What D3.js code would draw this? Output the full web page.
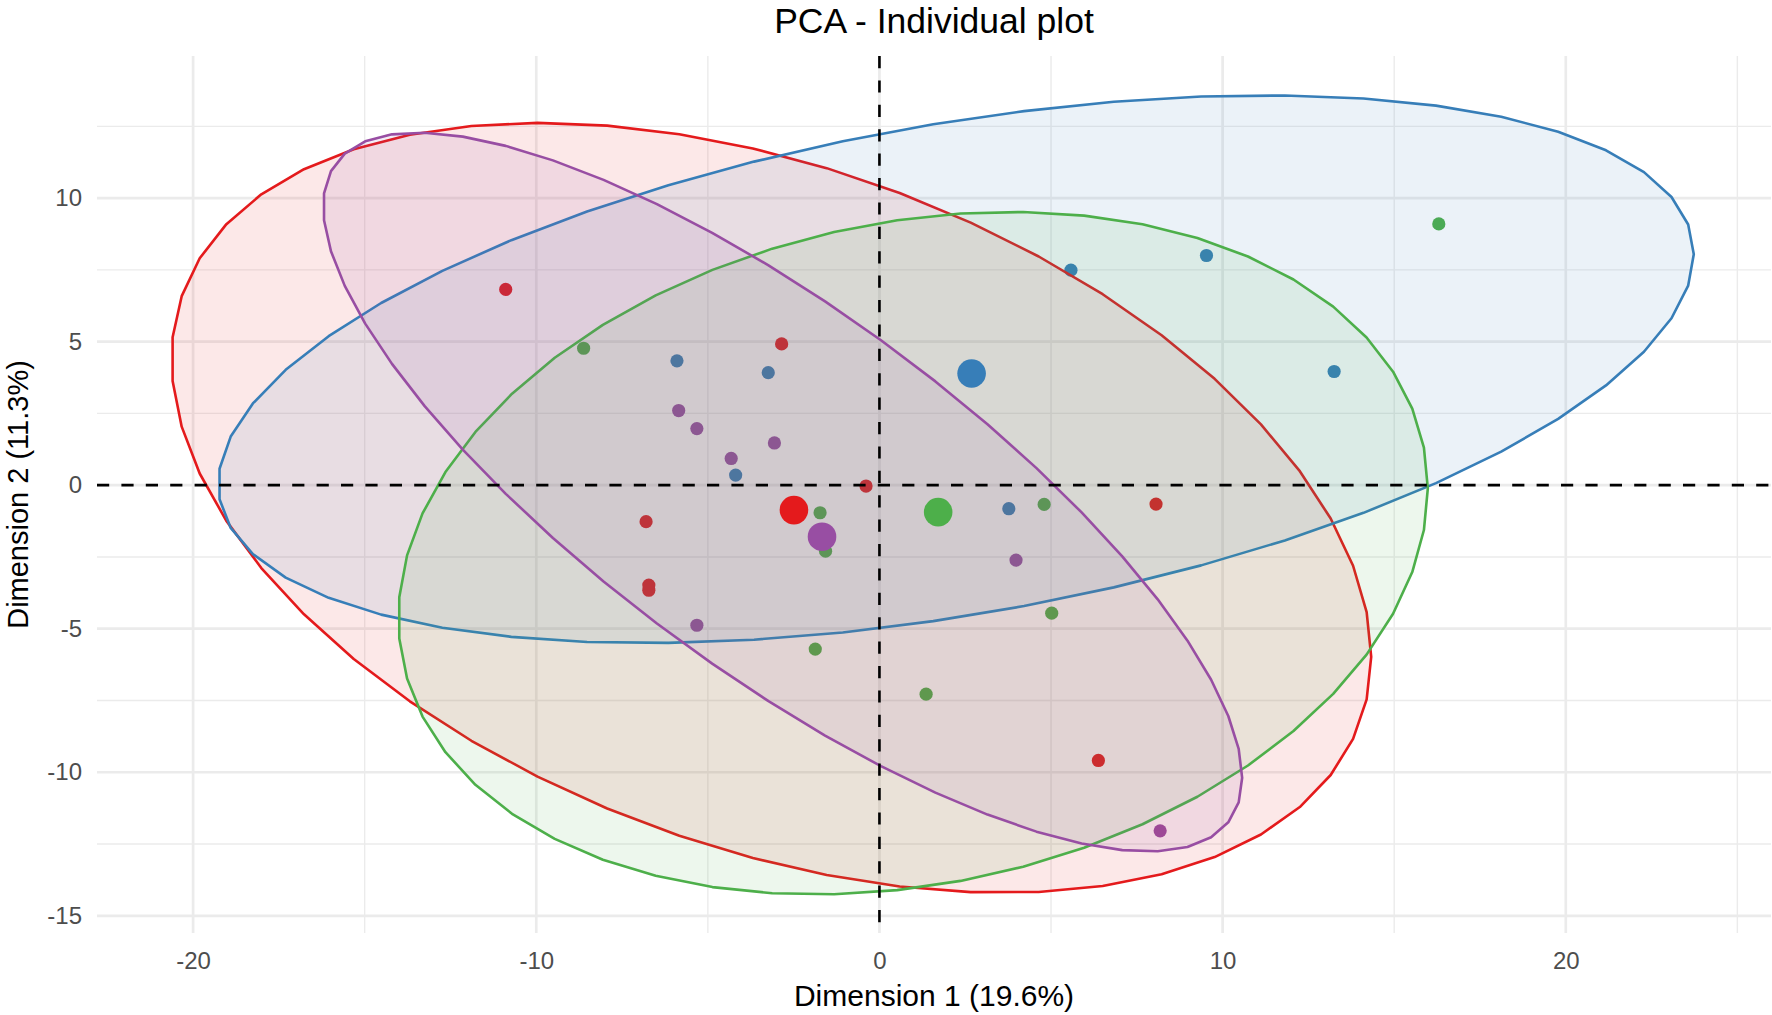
<!DOCTYPE html>
<html>
<head>
<meta charset="utf-8">
<script src="https://cdn.jsdelivr.net/npm/d3@7"></script>
<style>
  body { margin: 0; background: #fff; }
  svg { display: block; }
  text { font-family: "Liberation Sans", Arial, Helvetica, sans-serif; }
</style>
</head>
<body>
<div id="chart"></div>
<script>
const width = 1772;
const height = 1015;

// Individuals, one pair of arrays per group (Dim.1, Dim.2)
const group1X = [-10.89, -2.85, -0.39, -6.80, -6.72, -6.72, 8.06, 6.38];
const group1Y = [6.82, 4.92, -0.03, -1.27, -3.48, -3.66, -0.66, -9.59];
const group2X = [5.58, 9.53, 13.25, -5.90, -3.24, -4.19, 3.77];
const group2Y = [7.49, 8.00, 3.96, 4.33, 3.92, 0.35, -0.82];
const group3X = [16.30, -8.62, -1.73, -1.57, 4.80, 5.02, -1.87, 1.36];
const group3Y = [9.10, 4.77, -0.96, -2.30, -0.67, -4.46, -5.71, -7.28];
const group4X = [-5.85, -5.32, -4.32, -3.06, -5.32, 3.98, 8.18];
const group4Y = [2.60, 1.97, 0.93, 1.47, -4.88, -2.61, -12.04];

const groupsX = [group1X, group2X, group3X, group4X];
const groupsY = [group1Y, group2Y, group3Y, group4Y];
const groupColors = ["#E41A1C", "#377EB8", "#4DAF4A", "#984EA3"];

// Ellipse per group: centre, spread on each axis, correlation
const ellCx = [-3.15, 2.23, 0.98, -2.82];
const ellCy = [-0.79, 4.04, -2.37, -0.24];
const ellSx = [17.48, 21.50, 15.00, 13.39];
const ellSy = [13.41, 9.54, 11.89, 12.52];
const ellR  = [-0.387, 0.42, 0.19, -0.795];

// Axis breaks
const xTicks = [-20, -10, 0, 10, 20];
const yTicks = [-15, -10, -5, 0, 5, 10];
const xMinor = [-15, -5, 5, 15, 25];
const yMinor = [-12.5, -7.5, -2.5, 2.5, 7.5, 12.5];

const svg = d3.select("#chart").append("svg")
  .attr("width", width)
  .attr("height", height)
  .attr("viewBox", [0, 0, width, height]);

const x = d3.scaleLinear().domain([-22.8, 25.98]).range([97, 1771]);
const y = d3.scaleLinear().domain([-15.6, 14.95]).range([933, 56]);
const [x0, x1] = x.range();
const [y0, y1] = y.range();

// grid
const grid = svg.append("g").attr("stroke", "#EBEBEB");
grid.selectAll(".vmin").data(xMinor).join("line")
  .attr("x1", d => x(d)).attr("x2", d => x(d))
  .attr("y1", y1).attr("y2", y0).attr("stroke-width", 1.4);
grid.selectAll(".hmin").data(yMinor).join("line")
  .attr("y1", d => y(d)).attr("y2", d => y(d))
  .attr("x1", x0).attr("x2", x1).attr("stroke-width", 1.4);
grid.selectAll(".vmaj").data(xTicks).join("line")
  .attr("x1", d => x(d)).attr("x2", d => x(d))
  .attr("y1", y1).attr("y2", y0).attr("stroke-width", 2.7);
grid.selectAll(".hmaj").data(yTicks).join("line")
  .attr("y1", d => y(d)).attr("y2", d => y(d))
  .attr("x1", x0).attr("x2", x1).attr("stroke-width", 2.7);

// individual points (drawn under the ellipses)
groupsX.forEach((xs, g) => {
  svg.append("g").selectAll("circle")
    .data(xs.map((v, i) => [v, groupsY[g][i]]))
    .join("circle")
    .attr("cx", d => x(d[0]))
    .attr("cy", d => y(d[1]))
    .attr("r", 6.6)
    .attr("fill", groupColors[g]);
});

// concentration ellipses, 51 segments like stat_ellipse
const line = d3.line().x(d => x(d[0])).y(d => y(d[1]));
const segments = 51;
ellCx.forEach((cx, g) => {
  const r = ellR[g];
  const pts = d3.range(segments + 1).map(i => {
    const t = 2 * Math.PI * i / segments;
    return [cx + ellSx[g] * Math.cos(t),
            ellCy[g] + ellSy[g] * (r * Math.cos(t) + Math.sqrt(1 - r * r) * Math.sin(t))];
  });
  svg.append("path")
    .attr("d", line(pts) + "Z")
    .attr("fill", groupColors[g])
    .attr("fill-opacity", 0.1)
    .attr("stroke", groupColors[g])
    .attr("stroke-width", 2.6)
    .attr("stroke-linejoin", "round");
});

// dashed zero lines
svg.append("line")
  .attr("x1", x0).attr("x2", x1).attr("y1", y(0)).attr("y2", y(0))
  .attr("stroke", "#000").attr("stroke-width", 2.6).attr("stroke-dasharray", "12.2 12.2");
svg.append("line")
  .attr("x1", x(0)).attr("x2", x(0)).attr("y1", y1).attr("y2", y0)
  .attr("stroke", "#000").attr("stroke-width", 2.6).attr("stroke-dasharray", "12.2 12.2");

// group mean points
svg.append("g").selectAll("circle")
  .data(groupsX.map((xs, g) => [d3.mean(xs), d3.mean(groupsY[g]), g]))
  .join("circle")
  .attr("cx", d => x(d[0]))
  .attr("cy", d => y(d[1]))
  .attr("r", 14.3)
  .attr("fill", d => groupColors[d[2]]);

// axes
const xAxis = svg.append("g")
  .attr("transform", `translate(0,${y0})`)
  .call(d3.axisBottom(x).tickValues(xTicks).tickSize(0).tickPadding(19).tickFormat(d => String(d)));
const yAxis = svg.append("g")
  .attr("transform", `translate(${x0},0)`)
  .call(d3.axisLeft(y).tickValues(yTicks).tickSize(0).tickPadding(15).tickFormat(d => String(d)));
[xAxis, yAxis].forEach(a => {
  a.select(".domain").remove();
  a.selectAll("text")
    .attr("font-size", 24)
    .attr("fill", "#4D4D4D")
    .style("font-family", '"Liberation Sans", Arial, sans-serif');
});

// titles
const midX = (x0 + x1) / 2;
svg.append("text")
  .attr("x", midX).attr("y", 33)
  .attr("text-anchor", "middle")
  .attr("font-size", 35.5)
  .attr("fill", "#000")
  .text("PCA - Individual plot");

svg.append("text")
  .attr("x", midX).attr("y", 1006)
  .attr("text-anchor", "middle")
  .attr("font-size", 30)
  .attr("fill", "#000")
  .text("Dimension 1 (19.6%)");

svg.append("text")
  .attr("transform", `translate(28,${(y0 + y1) / 2}) rotate(-90)`)
  .attr("text-anchor", "middle")
  .attr("font-size", 29)
  .attr("fill", "#000")
  .text("Dimension 2 (11.3%)");
</script>
</body>
</html>
